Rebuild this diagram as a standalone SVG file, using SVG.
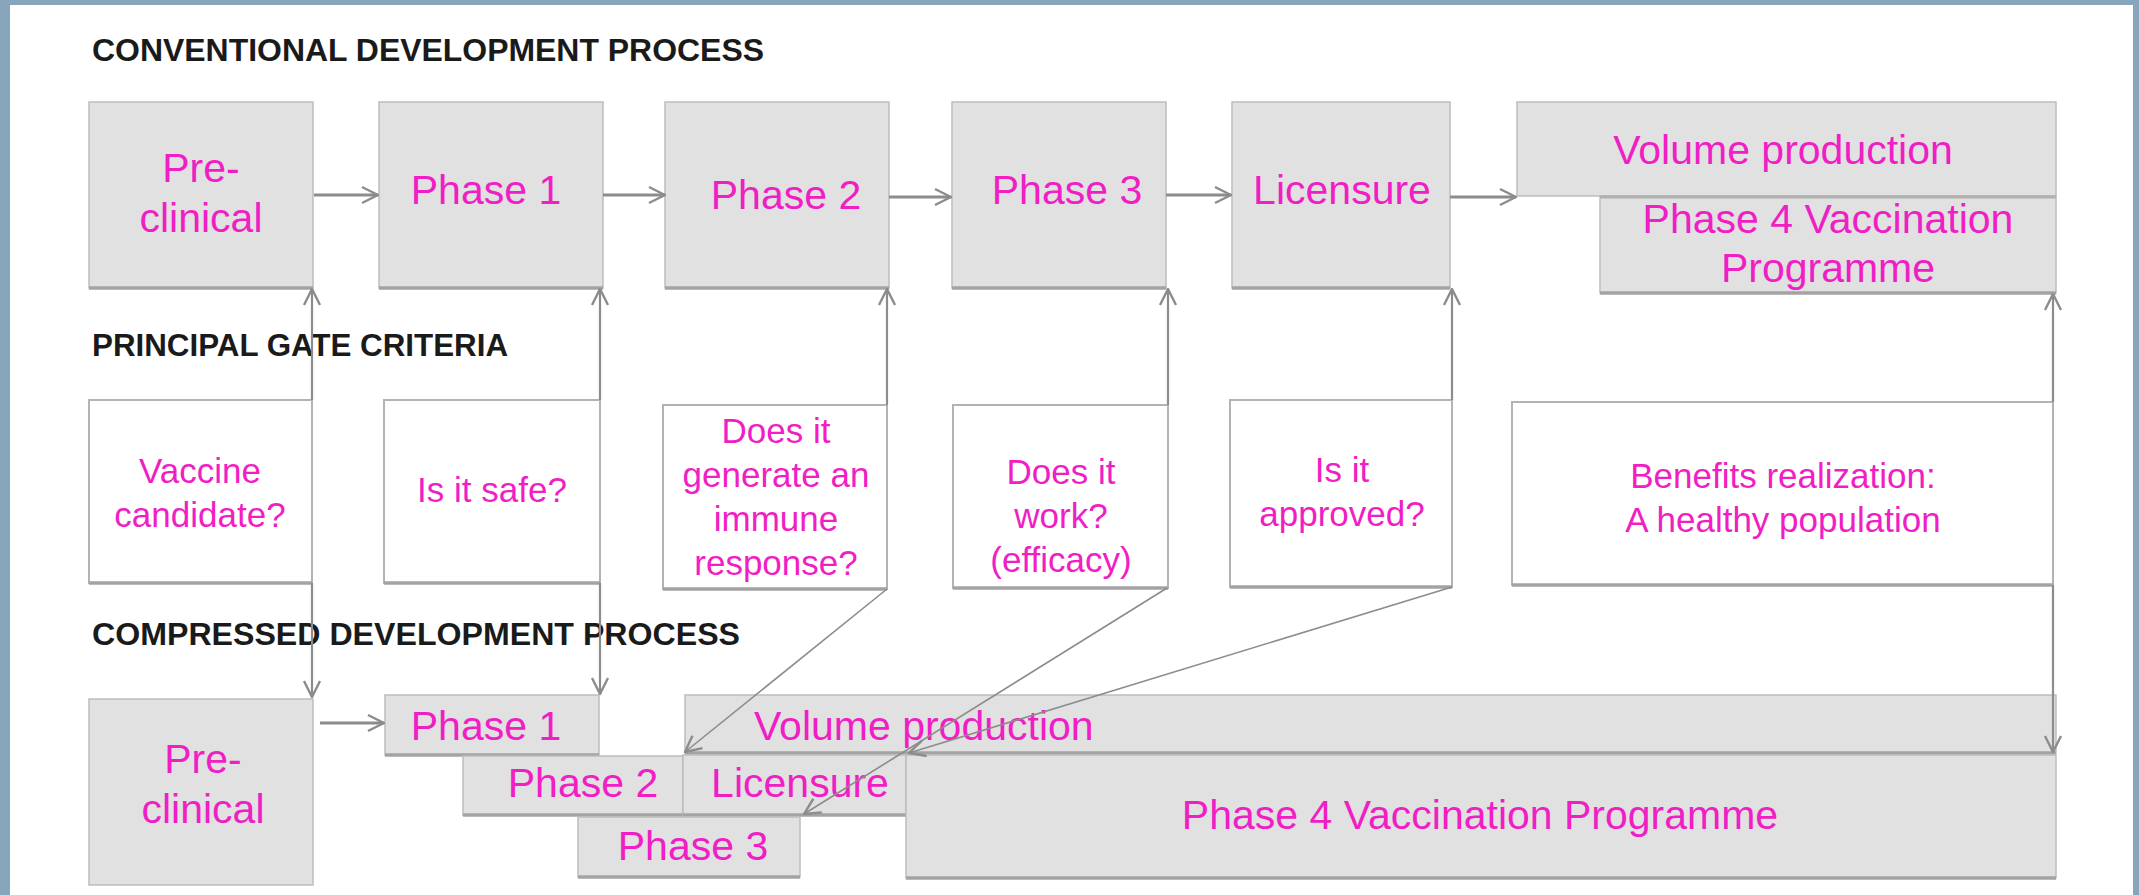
<svg xmlns="http://www.w3.org/2000/svg" width="2139" height="895" viewBox="0 0 2139 895">
<defs>
<style>
.box{fill:#e1e1e1;stroke:#bdbdbd;stroke-width:1.5}
.gate{fill:#ffffff;stroke:#b3b3b3;stroke-width:2}
.base{stroke:#a3a3a3;stroke-width:3.5;fill:none}
.t{font-family:"Liberation Sans",Arial,sans-serif;fill:#f01ec4;text-anchor:middle}
.big{font-size:41px}
.mid{font-size:35px}
.h{font-family:"Liberation Sans",Arial,sans-serif;font-size:32px;font-weight:bold;fill:#1a1a1a}
.c{fill:none;stroke:#8c8c8c;marker-end:url(#ah)}
.hz{stroke-width:3}
.vt{stroke-width:2.2}
.dg{stroke-width:1.6}
</style>
<marker id="ah" viewBox="0 0 20 20" refX="19" refY="10" markerWidth="20" markerHeight="20" markerUnits="userSpaceOnUse" orient="auto">
<path d="M3,2 L19,10 L3,18" fill="none" stroke="#8c8c8c" stroke-width="2.4"/>
</marker>
</defs>
<rect x="0" y="0" width="2139" height="895" fill="#87a5bb"/>
<rect x="10" y="5" width="2123" height="890" fill="#ffffff"/>

<g id="headings">
<text class="h" x="92" y="61" textLength="672" lengthAdjust="spacingAndGlyphs">CONVENTIONAL DEVELOPMENT PROCESS</text>
<text class="h" x="92" y="356" textLength="416" lengthAdjust="spacingAndGlyphs">PRINCIPAL GATE CRITERIA</text>
<text class="h" x="92" y="645" textLength="648" lengthAdjust="spacingAndGlyphs">COMPRESSED DEVELOPMENT PROCESS</text>
</g>

<!-- Conventional process -->
<g id="conv-preclinical">
<rect class="box" x="89" y="102" width="224" height="186"/><line class="base" x1="89" y1="288" x2="313" y2="288"/>
<text class="t big" x="201" y="182">Pre-</text><text class="t big" x="201" y="232">clinical</text>
</g>
<g id="conv-phase1">
<rect class="box" x="379" y="102" width="224" height="186"/><line class="base" x1="379" y1="288" x2="603" y2="288"/>
<text class="t big" x="486" y="204">Phase 1</text>
</g>
<g id="conv-phase2">
<rect class="box" x="665" y="102" width="224" height="186"/><line class="base" x1="665" y1="288" x2="889" y2="288"/>
<text class="t big" x="786" y="209">Phase 2</text>
</g>
<g id="conv-phase3">
<rect class="box" x="952" y="102" width="214" height="186"/><line class="base" x1="952" y1="288" x2="1166" y2="288"/>
<text class="t big" x="1067" y="204">Phase 3</text>
</g>
<g id="conv-licensure">
<rect class="box" x="1232" y="102" width="218" height="186"/><line class="base" x1="1232" y1="288" x2="1450" y2="288"/>
<text class="t big" x="1342" y="204">Licensure</text>
</g>
<g id="conv-volume">
<rect class="box" x="1517" y="102" width="539" height="94"/>
<text class="t big" x="1783" y="164">Volume production</text>
</g>
<g id="conv-phase4">
<rect class="box" x="1600" y="196" width="456" height="97"/><line class="base" x1="1600" y1="293" x2="2056" y2="293"/>
<line x1="1600" y1="197" x2="2056" y2="197" stroke="#b0b0b0" stroke-width="3"/>
<text class="t big" x="1828" y="233">Phase 4 Vaccination</text>
<text class="t big" x="1828" y="282">Programme</text>
</g>

<!-- Gate criteria -->
<g id="gate-vaccine">
<rect class="gate" x="89" y="400" width="223" height="183"/><line class="base" x1="89" y1="583" x2="312" y2="583"/>
<text class="t mid" x="200" y="483">Vaccine</text><text class="t mid" x="200" y="527">candidate?</text>
</g>
<g id="gate-safe">
<rect class="gate" x="384" y="400" width="216" height="183"/><line class="base" x1="384" y1="583" x2="600" y2="583"/>
<text class="t mid" x="492" y="502">Is it safe?</text>
</g>
<g id="gate-immune">
<rect class="gate" x="663" y="405" width="224" height="184"/><line class="base" x1="663" y1="589" x2="887" y2="589"/>
<text class="t mid" x="776" y="443">Does it</text>
<text class="t mid" x="776" y="487">generate an</text>
<text class="t mid" x="776" y="531">immune</text>
<text class="t mid" x="776" y="575">response?</text>
</g>
<g id="gate-work">
<rect class="gate" x="953" y="405" width="215" height="183"/><line class="base" x1="953" y1="588" x2="1168" y2="588"/>
<text class="t mid" x="1061" y="484">Does it</text>
<text class="t mid" x="1061" y="528">work?</text>
<text class="t mid" x="1061" y="572">(efficacy)</text>
</g>
<g id="gate-approved">
<rect class="gate" x="1230" y="400" width="222" height="187"/><line class="base" x1="1230" y1="587" x2="1452" y2="587"/>
<text class="t mid" x="1342" y="482">Is it</text>
<text class="t mid" x="1342" y="526">approved?</text>
</g>
<g id="gate-benefits">
<rect class="gate" x="1512" y="402" width="541" height="183"/><line class="base" x1="1512" y1="585" x2="2053" y2="585"/>
<text class="t mid" x="1783" y="488">Benefits  realization:</text>
<text class="t mid" x="1783" y="532">A healthy population</text>
</g>

<!-- Compressed process -->
<g id="comp-volume">
<rect class="box" x="685" y="695" width="1371" height="58"/><line class="base" x1="685" y1="753" x2="2056" y2="753"/>
<text class="t big" x="754" y="740" style="text-anchor:start">Volume production</text>
</g>
<g id="comp-preclinical">
<rect class="box" x="89" y="699" width="224" height="186"/>
<text class="t big" x="203" y="773">Pre-</text><text class="t big" x="203" y="823">clinical</text>
</g>
<g id="comp-phase1">
<rect class="box" x="385" y="695" width="214" height="60"/><line class="base" x1="385" y1="755" x2="599" y2="755"/>
<text class="t big" x="486" y="740">Phase 1</text>
</g>
<g id="comp-phase2">
<rect class="box" x="463" y="756" width="220" height="59"/><line class="base" x1="463" y1="815" x2="683" y2="815"/>
<text class="t big" x="583" y="797">Phase 2</text>
</g>
<g id="comp-licensure">
<rect class="box" x="683" y="755" width="223" height="60"/><line class="base" x1="683" y1="815" x2="906" y2="815"/>
<text class="t big" x="800" y="797">Licensure</text>
</g>
<g id="comp-phase3">
<rect class="box" x="578" y="817" width="222" height="60"/><line class="base" x1="578" y1="877" x2="800" y2="877"/>
<text class="t big" x="693" y="860">Phase 3</text>
</g>
<g id="comp-phase4">
<rect class="box" x="906" y="755" width="1150" height="123"/><line class="base" x1="906" y1="878" x2="2056" y2="878"/>
<text class="t big" x="1480" y="829">Phase 4 Vaccination Programme</text>
</g>

<!-- Connectors -->
<g id="connectors">
<line class="c hz" x1="314" y1="195" x2="378" y2="195"/>
<line class="c hz" x1="603" y1="195" x2="665" y2="195"/>
<line class="c hz" x1="889" y1="197" x2="951" y2="197"/>
<line class="c hz" x1="1166" y1="195" x2="1231" y2="195"/>
<line class="c hz" x1="1450" y1="197" x2="1516" y2="197"/>
<line class="c hz" x1="320" y1="723" x2="384" y2="723"/>

<line class="c vt" x1="312" y1="400" x2="312" y2="289"/>
<line class="c vt" x1="600" y1="400" x2="600" y2="289"/>
<line class="c vt" x1="887" y1="405" x2="887" y2="289"/>
<line class="c vt" x1="1168" y1="405" x2="1168" y2="289"/>
<line class="c vt" x1="1452" y1="400" x2="1452" y2="289"/>
<line class="c vt" x1="2053" y1="402" x2="2053" y2="294"/>

<line class="c vt" x1="312" y1="583" x2="312" y2="697"/>
<line class="c vt" x1="600" y1="583" x2="600" y2="694"/>
<line class="c vt" x1="2053" y1="585" x2="2053" y2="752"/>

<line class="c dg" x1="887" y1="589" x2="685" y2="752"/>
<line class="c dg" x1="1167" y1="588" x2="804" y2="814"/>
<line class="c dg" x1="1452" y1="587" x2="909" y2="753"/>
</g>
</svg>
